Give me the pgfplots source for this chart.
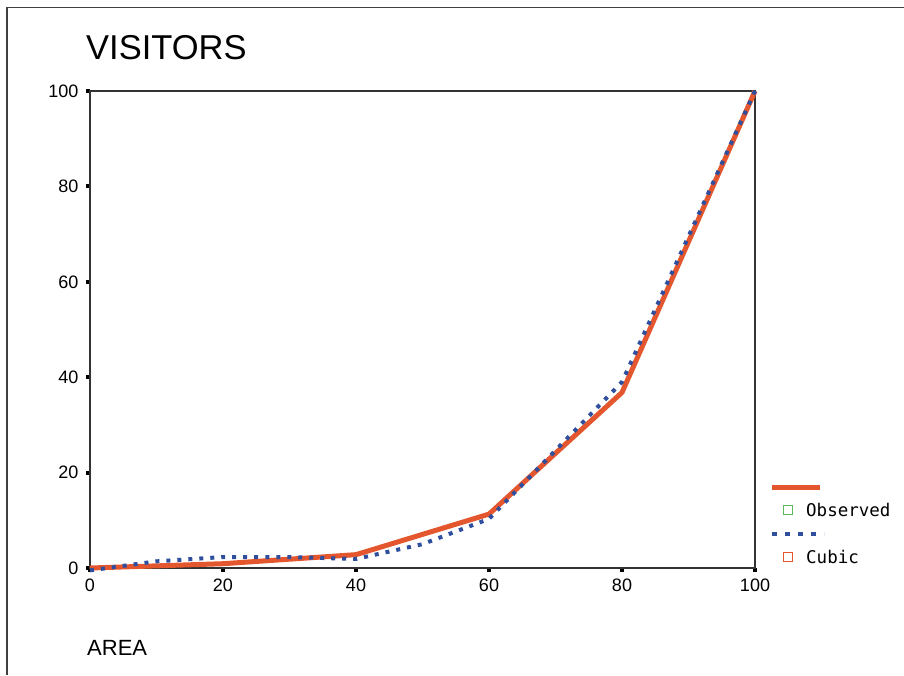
\documentclass[border=0pt]{standalone}
\usepackage{pgfplots}
\pgfplotsset{compat=1.18}
\usepackage{fontspec}
\setmainfont{Liberation Sans}
\newfontfamily\legfont{DejaVu Sans Mono}
\definecolor{obs}{HTML}{E4572E}
\definecolor{cub}{HTML}{2F4F9E}
\definecolor{grn}{HTML}{5CB85C}
\begin{document}
\begin{tikzpicture}[x=1pt,y=1pt]
\useasboundingbox (0,0) rectangle (904,-675);
\draw[line width=1.5pt, black!75] (7,-675) -- (7,-7.5) -- (904,-7.5);
\begin{axis}[
  at={(90pt,-568pt)}, anchor=south west,
  scale only axis, width=665pt, height=477pt,
  xmin=0, xmax=100, ymin=0, ymax=100,
  xtick={0,20,...,100}, ytick={0,20,...,100},
  axis line style={line width=2pt, black!80},
  tick pos=left, tick align=outside,
  major tick length=4pt,
  tick style={line width=4pt, black},
  ticklabel style={font=\fontsize{18}{18}\selectfont},
  xticklabel style={yshift=-3pt},
  yticklabel style={xshift=-4pt},
  /pgf/number format/assume math mode=true,
  clip=false,
]
\addplot[obs, line width=5pt, line join=round] coordinates {
  (0,0) (20,0.9) (40,2.8) (60,11.3) (80,36.8) (100,100)
};
\addplot[cub, line width=4pt, dash pattern=on 4pt off 7pt] coordinates {
  (0,-0.5) (10,1.4) (20,2.3) (30,2.3) (40,1.9) (50,5) (60,10.3) (80,39) (100,100)
};
\end{axis}
\node[anchor=west, inner sep=0, font=\fontsize{34.5}{34.5}\selectfont] at (86,-48) {VISITORS};
\node[anchor=west, inner sep=0, font=\fontsize{22}{22}\selectfont] at (87,-648) {AREA};
\draw[obs, line width=5pt] (772,-487) -- (820,-487);
\node[draw=grn, line width=1.3pt, minimum size=8.5pt, inner sep=0] at (788,-510) {};
\node[anchor=west, inner sep=0, font=\legfont\fontsize{17.5}{17.5}\selectfont] at (806,-510) {Observed};
\draw[cub, line width=4.5pt, dash pattern=on 5pt off 8pt] (772,-534) -- (824,-534);
\node[draw=obs, line width=1.3pt, minimum size=8.5pt, inner sep=0] at (788,-557) {};
\node[anchor=west, inner sep=0, font=\legfont\fontsize{17.5}{17.5}\selectfont] at (806,-557) {Cubic};
\end{tikzpicture}
\end{document}
